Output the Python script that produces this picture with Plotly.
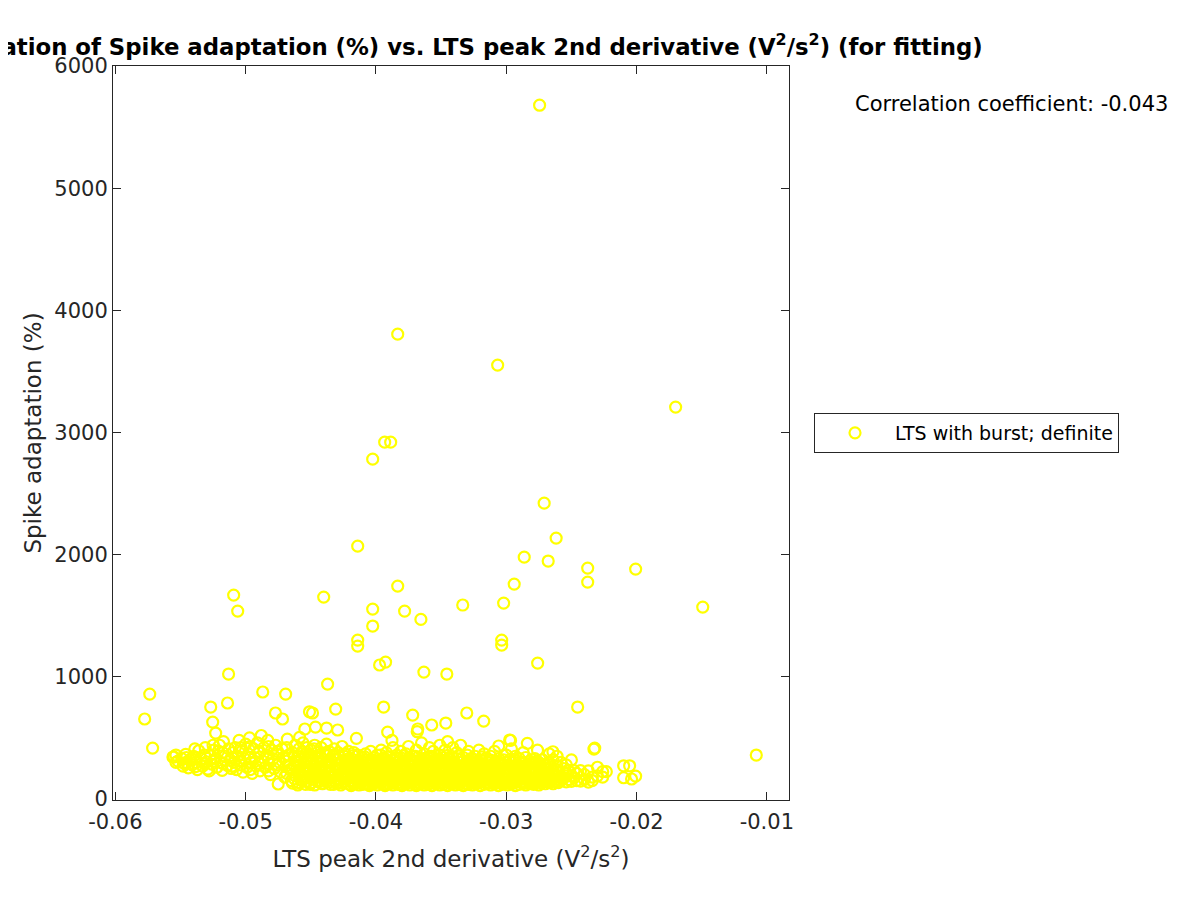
import plotly.graph_objects as go

# ---------------- data ----------------
outliers = [
    [-0.02744, 5679], [-0.03833, 3805], [-0.03066, 3552], [-0.01700, 3208],
    [-0.03933, 2921], [-0.03887, 2921], [-0.04025, 2782], [-0.02709, 2422],
    [-0.04140, 2070], [-0.02617, 2136], [-0.02862, 1980], [-0.02939, 1759],
    [-0.02375, 1890], [-0.02375, 1776], [-0.02007, 1882], [-0.02678, 1948],
    [-0.03833, 1743], [-0.05092, 1669], [-0.05061, 1538], [-0.04401, 1653],
    [-0.04025, 1555], [-0.03780, 1538], [-0.04025, 1416], [-0.03334, 1588],
    [-0.03020, 1604], [-0.03035, 1301], [-0.03035, 1260], [-0.04140, 1301],
    [-0.04140, 1252], [-0.03655, 1470], [-0.01492, 1571], [-0.03926, 1121],
    [-0.03972, 1097], [-0.02759, 1113], [-0.05131, 1023], [-0.03632, 1039],
    [-0.03456, 1023], [-0.05736, 859], [-0.05775, 655], [-0.05714, 417],
    [-0.04869, 876], [-0.04693, 859], [-0.04371, 941], [-0.05268, 753],
    [-0.05139, 786], [-0.05253, 630], [-0.05230, 540], [-0.04771, 704],
    [-0.04717, 655], [-0.04487, 704], [-0.04510, 714], [-0.04309, 736],
    [-0.04464, 589], [-0.04379, 581], [-0.04294, 565], [-0.04546, 573],
    [-0.03941, 753], [-0.03718, 687], [-0.03910, 548], [-0.03679, 573],
    [-0.03572, 606], [-0.03464, 622], [-0.03303, 704], [-0.03173, 638],
    [-0.02452, 753], [-0.02321, 417], [-0.01081, 360], [-0.02974, 483],
    [-0.03058, 434], [-0.02967, 480], [-0.02838, 456], [-0.02642, 387],
    [-0.02327, 409], [-0.04586, 505], [-0.04150, 497], [-0.03877, 480],
    [-0.03683, 551], [-0.02099, 272], [-0.02053, 272], [-0.02099, 174],
    [-0.02038, 164], [-0.02007, 188], [-0.02232, 224], [-0.05558, 344],
]

cluster_left = [
    [-0.0555, 344], [-0.0552, 310], [-0.0549, 330], [-0.0547, 290], [-0.0546, 365],
    [-0.0544, 255], [-0.0543, 320], [-0.0541, 280], [-0.0540, 350], [-0.0538, 300],
    [-0.0537, 240], [-0.0536, 395], [-0.0534, 330], [-0.0533, 270], [-0.0531, 420],
    [-0.0530, 305], [-0.0529, 245], [-0.0527, 360], [-0.0526, 285], [-0.0525, 440],
    [-0.0523, 330], [-0.0522, 260], [-0.0521, 390], [-0.0519, 300], [-0.0518, 235],
    [-0.0517, 470], [-0.0516, 350], [-0.0514, 275], [-0.0513, 410], [-0.0512, 320],
    [-0.0511, 250], [-0.0510, 380], [-0.0548, 270], [-0.0539, 410], [-0.0528, 230],
    [-0.0520, 440],
    [-0.0509, 300], [-0.0508, 420], [-0.0507, 240], [-0.0506, 350], [-0.0505, 480],
    [-0.0504, 280], [-0.0503, 390], [-0.0502, 220], [-0.0501, 330], [-0.0500, 450],
    [-0.0499, 260], [-0.0498, 370], [-0.0497, 500], [-0.0496, 300], [-0.0495, 210],
    [-0.0494, 410], [-0.0493, 340], [-0.0492, 270], [-0.0491, 460], [-0.0490, 380],
    [-0.0489, 230], [-0.0488, 520], [-0.0487, 310], [-0.0486, 420], [-0.0485, 260],
    [-0.0484, 360], [-0.0483, 480], [-0.0482, 290], [-0.0481, 200], [-0.0480, 400],
    [-0.0479, 330], [-0.0478, 250], [-0.0477, 440], [-0.0476, 370], [-0.0475, 123],
    [-0.0474, 300], [-0.0473, 220], [-0.0472, 410], [-0.0471, 340], [-0.0470, 180],
    [-0.0469, 270], [-0.0468, 490], [-0.0467, 360], [-0.0466, 240], [-0.0465, 150],
    [-0.05535, 300], [-0.05535, 360], [-0.05455, 300], [-0.05455, 340],
    [-0.05385, 265], [-0.05385, 340], [-0.05315, 290], [-0.05315, 360],
    [-0.05245, 310], [-0.05245, 400], [-0.05175, 290], [-0.05175, 380],
    [-0.05105, 270], [-0.05105, 340], [-0.05035, 310], [-0.05035, 420],
    [-0.04965, 240], [-0.04965, 340], [-0.04965, 430], [-0.04895, 290],
    [-0.04895, 390], [-0.04825, 230], [-0.04825, 330], [-0.04825, 430],
    [-0.04755, 280], [-0.04755, 390], [-0.04685, 210], [-0.04685, 310],
    [-0.04685, 420],
]

cluster_mid_left = [
    [-0.0464, 130], [-0.0464, 250], [-0.0464, 380],
    [-0.0462, 190], [-0.0462, 310], [-0.0462, 440],
    [-0.0460, 115], [-0.0460, 230], [-0.0460, 350],
    [-0.0459, 280], [-0.0459, 410],
    [-0.0457, 150], [-0.0457, 200], [-0.0457, 330],
    [-0.0456, 260], [-0.0456, 460],
    [-0.0454, 120], [-0.0454, 220], [-0.0454, 370],
    [-0.0453, 170], [-0.0453, 300], [-0.0453, 420],
    [-0.0451, 240], [-0.0451, 350],
    [-0.0450, 135], [-0.0450, 195], [-0.0450, 290], [-0.0450, 400],
    [-0.0448, 160], [-0.0448, 260], [-0.0448, 330],
    [-0.0447, 115], [-0.0447, 220], [-0.0447, 440],
    [-0.0445, 180], [-0.0445, 300], [-0.0445, 380],
    [-0.0444, 140], [-0.0444, 250],
    [-0.0442, 200], [-0.0442, 340], [-0.0442, 420],
    [-0.0441, 125], [-0.0441, 270],
    [-0.0439, 170], [-0.0439, 230], [-0.0439, 360],
    [-0.0438, 145], [-0.0438, 300], [-0.0438, 450],
    [-0.0436, 210], [-0.0436, 260], [-0.0436, 390],
    [-0.0435, 120], [-0.0435, 180], [-0.0435, 320],
    [-0.0433, 240], [-0.0433, 350],
    [-0.0432, 150], [-0.0432, 200], [-0.0432, 410],
    [-0.0430, 130], [-0.0430, 280], [-0.0430, 330],
    [-0.0429, 170], [-0.0429, 230], [-0.0429, 380],
    [-0.0427, 115], [-0.0427, 260],
    [-0.0426, 190], [-0.0426, 310], [-0.0426, 430],
    [-0.0424, 140], [-0.0424, 220], [-0.0424, 350],
    [-0.0423, 165], [-0.0423, 270],
    [-0.0421, 125], [-0.0421, 200], [-0.0421, 330], [-0.0421, 390],
]

cluster_core = [
    [-0.0419, 110], [-0.0419, 175], [-0.0419, 240], [-0.0419, 330],
    [-0.0417, 140], [-0.0417, 210], [-0.0417, 290], [-0.0417, 380],
    [-0.0416, 125], [-0.0416, 190], [-0.0416, 260],
    [-0.0414, 155], [-0.0414, 230], [-0.0414, 310], [-0.0414, 360],
    [-0.0413, 115], [-0.0413, 200], [-0.0413, 270],
    [-0.0411, 145], [-0.0411, 180], [-0.0411, 250], [-0.0411, 340],
    [-0.0410, 120], [-0.0410, 220], [-0.0410, 300],
    [-0.0408, 165], [-0.0408, 240], [-0.0408, 370],
    [-0.0407, 130], [-0.0407, 195], [-0.0407, 280], [-0.0407, 320],
    [-0.0405, 110], [-0.0405, 170], [-0.0405, 250],
    [-0.0404, 150], [-0.0404, 210], [-0.0404, 300], [-0.0404, 390],
    [-0.0402, 125], [-0.0402, 185], [-0.0402, 265],
    [-0.0401, 140], [-0.0401, 230], [-0.0401, 340],
    [-0.0399, 115], [-0.0399, 200], [-0.0399, 280], [-0.0399, 360],
    [-0.0398, 160], [-0.0398, 250], [-0.0398, 310],
    [-0.0396, 130], [-0.0396, 180], [-0.0396, 220], [-0.0396, 400],
    [-0.0395, 145], [-0.0395, 270], [-0.0395, 330],
    [-0.0393, 110], [-0.0393, 195], [-0.0393, 240], [-0.0393, 300],
    [-0.0392, 170], [-0.0392, 260], [-0.0392, 380],
    [-0.0390, 125], [-0.0390, 210], [-0.0390, 290], [-0.0390, 345],
    [-0.0389, 150], [-0.0389, 185], [-0.0389, 235],
    [-0.0387, 115], [-0.0387, 250], [-0.0387, 320], [-0.0387, 420],
    [-0.0386, 140], [-0.0386, 200], [-0.0386, 275],
    [-0.0384, 130], [-0.0384, 165], [-0.0384, 230], [-0.0384, 360],
    [-0.0383, 120], [-0.0383, 210], [-0.0383, 300],
    [-0.0381, 155], [-0.0381, 250], [-0.0381, 340], [-0.0381, 390],
    [-0.0380, 110], [-0.0380, 190], [-0.0380, 270],
    [-0.0378, 145], [-0.0378, 225], [-0.0378, 315],
    [-0.0377, 125], [-0.0377, 175], [-0.0377, 260], [-0.0377, 370],
    [-0.0375, 160], [-0.0375, 205], [-0.0375, 290], [-0.0375, 430],
    [-0.0374, 115], [-0.0374, 240], [-0.0374, 330],
    [-0.0372, 135], [-0.0372, 185], [-0.0372, 270], [-0.0372, 350],
    [-0.0371, 150], [-0.0371, 220], [-0.0371, 300],
    [-0.0369, 110], [-0.0369, 195], [-0.0369, 255], [-0.0369, 400],
    [-0.0368, 140], [-0.0368, 280], [-0.0368, 340],
    [-0.0366, 125], [-0.0366, 170], [-0.0366, 230], [-0.0366, 310],
    [-0.0365, 155], [-0.0365, 210], [-0.0365, 265], [-0.0365, 460],
    [-0.0363, 115], [-0.0363, 190], [-0.0363, 300], [-0.0363, 370],
    [-0.0362, 135], [-0.0362, 245], [-0.0362, 330],
    [-0.0360, 120], [-0.0360, 175], [-0.0360, 215], [-0.0360, 280],
    [-0.0359, 150], [-0.0359, 260], [-0.0359, 350], [-0.0359, 420],
    [-0.0357, 110], [-0.0357, 200], [-0.0357, 300],
    [-0.0356, 140], [-0.0356, 230], [-0.0356, 390],
    [-0.0354, 125], [-0.0354, 180], [-0.0354, 270], [-0.0354, 330],
    [-0.0353, 160], [-0.0353, 215], [-0.0353, 290],
    [-0.0351, 115], [-0.0351, 250], [-0.0351, 360], [-0.0351, 440],
    [-0.0350, 135], [-0.0350, 190], [-0.0350, 300],
    [-0.0348, 120], [-0.0348, 170], [-0.0348, 235], [-0.0348, 340],
    [-0.0347, 150], [-0.0347, 265], [-0.0347, 400],
    [-0.0345, 110], [-0.0345, 200], [-0.0345, 310], [-0.0345, 470],
    [-0.0344, 140], [-0.0344, 225], [-0.0344, 285],
    [-0.0342, 125], [-0.0342, 180], [-0.0342, 250], [-0.0342, 350],
    [-0.0341, 155], [-0.0341, 300], [-0.0341, 420],
    [-0.0339, 115], [-0.0339, 195], [-0.0339, 270],
    [-0.0338, 135], [-0.0338, 230], [-0.0338, 330], [-0.0338, 380],
    [-0.0336, 120], [-0.0336, 170], [-0.0336, 260],
    [-0.0335, 145], [-0.0335, 210], [-0.0335, 300], [-0.0335, 440],
    [-0.0333, 110], [-0.0333, 245], [-0.0333, 340],
    [-0.0332, 130], [-0.0332, 185], [-0.0332, 275],
    [-0.0330, 150], [-0.0330, 220], [-0.0330, 310], [-0.0330, 360],
    [-0.0329, 120], [-0.0329, 260], [-0.0329, 390],
    [-0.0327, 140], [-0.0327, 190], [-0.0327, 240], [-0.0327, 330],
    [-0.0326, 115], [-0.0326, 205], [-0.0326, 290],
    [-0.0324, 160], [-0.0324, 250], [-0.0324, 350],
    [-0.0323, 125], [-0.0323, 180], [-0.0323, 300],
    [-0.0321, 135], [-0.0321, 225], [-0.0321, 270], [-0.0321, 400],
    [-0.0320, 110], [-0.0320, 195], [-0.0320, 320],
    [-0.0318, 150], [-0.0318, 240], [-0.0318, 290],
    [-0.0317, 120], [-0.0317, 175], [-0.0317, 260], [-0.0317, 370],
    [-0.0315, 140], [-0.0315, 215], [-0.0315, 330],
    [-0.0314, 130], [-0.0314, 255], [-0.0314, 300],
    [-0.0312, 115], [-0.0312, 185], [-0.0312, 240], [-0.0312, 350],
    [-0.0311, 145], [-0.0311, 210], [-0.0311, 280],
    [-0.0309, 125], [-0.0309, 170], [-0.0309, 300], [-0.0309, 390],
    [-0.0308, 135], [-0.0308, 230], [-0.0308, 260],
    [-0.0306, 110], [-0.0306, 200], [-0.0306, 330],
    [-0.0305, 150], [-0.0305, 245], [-0.0305, 290],
    [-0.0303, 120], [-0.0303, 180], [-0.0303, 270],
    [-0.0302, 140], [-0.0302, 215], [-0.0302, 320],
    [-0.0300, 130], [-0.0300, 250], [-0.0300, 360],
]

cluster_core_extra = [
    [-0.04625, 165], [-0.04625, 270], [-0.04625, 345],
    [-0.04595, 135], [-0.04595, 215], [-0.04595, 300],
    [-0.04565, 180], [-0.04565, 240], [-0.04565, 390],
    [-0.04535, 145], [-0.04535, 265], [-0.04535, 320],
    [-0.04505, 120], [-0.04505, 230], [-0.04505, 360],
    [-0.04475, 190], [-0.04475, 285], [-0.04475, 410],
    [-0.04445, 155], [-0.04445, 210], [-0.04445, 340],
    [-0.04415, 130], [-0.04415, 245], [-0.04415, 305],
    [-0.04385, 175], [-0.04385, 265], [-0.04385, 380],
    [-0.04355, 140], [-0.04355, 220], [-0.04355, 300],
    [-0.04325, 120], [-0.04325, 185], [-0.04325, 360],
    [-0.04295, 155], [-0.04295, 250], [-0.04295, 320],
    [-0.04265, 135], [-0.04265, 215], [-0.04265, 290],
    [-0.04235, 180], [-0.04235, 245], [-0.04235, 370],
    [-0.04205, 150], [-0.04205, 270], [-0.04205, 310],
    [-0.04175, 125], [-0.04175, 230], [-0.04175, 355],
    [-0.04145, 170], [-0.04145, 205], [-0.04145, 285],
    [-0.04115, 135], [-0.04115, 265], [-0.04115, 315],
    [-0.04085, 150], [-0.04085, 195], [-0.04085, 345],
    [-0.04055, 120], [-0.04055, 230], [-0.04055, 290],
    [-0.04025, 160], [-0.04025, 215], [-0.04025, 320],
    [-0.03995, 140], [-0.03995, 250], [-0.03995, 300],
    [-0.03965, 155], [-0.03965, 205], [-0.03965, 360],
    [-0.03935, 125], [-0.03935, 270], [-0.03935, 335],
    [-0.03905, 165], [-0.03905, 230], [-0.03905, 310],
    [-0.03875, 135], [-0.03875, 190], [-0.03875, 290],
    [-0.03845, 150], [-0.03845, 265], [-0.03845, 330],
    [-0.03815, 120], [-0.03815, 215], [-0.03815, 280],
    [-0.03785, 165], [-0.03785, 245], [-0.03785, 355],
    [-0.03755, 140], [-0.03755, 185], [-0.03755, 310],
    [-0.03725, 155], [-0.03725, 235], [-0.03725, 300],
    [-0.03695, 125], [-0.03695, 225], [-0.03695, 350],
    [-0.03665, 180], [-0.03665, 250], [-0.03665, 290],
    [-0.03635, 145], [-0.03635, 210], [-0.03635, 330],
    [-0.03605, 160], [-0.03605, 240], [-0.03605, 310],
    [-0.03575, 130], [-0.03575, 275], [-0.03575, 350],
    [-0.03545, 150], [-0.03545, 205], [-0.03545, 310],
    [-0.03515, 170], [-0.03515, 225], [-0.03515, 290],
    [-0.03485, 135], [-0.03485, 250], [-0.03485, 315],
    [-0.03455, 155], [-0.03455, 195], [-0.03455, 355],
    [-0.03425, 125], [-0.03425, 270], [-0.03425, 320],
    [-0.03395, 165], [-0.03395, 235], [-0.03395, 300],
    [-0.03365, 140], [-0.03365, 205], [-0.03365, 355],
    [-0.03335, 155], [-0.03335, 265], [-0.03335, 305],
    [-0.03305, 125], [-0.03305, 195], [-0.03305, 285],
    [-0.03275, 160], [-0.03275, 225], [-0.03275, 310],
    [-0.03245, 135], [-0.03245, 270], [-0.03245, 320],
    [-0.03215, 150], [-0.03215, 200], [-0.03215, 290],
    [-0.03185, 165], [-0.03185, 225], [-0.03185, 345],
    [-0.03155, 130], [-0.03155, 190], [-0.03155, 275],
    [-0.03125, 155], [-0.03125, 265], [-0.03125, 320],
    [-0.03095, 145], [-0.03095, 215], [-0.03095, 280],
    [-0.03065, 165], [-0.03065, 230], [-0.03065, 300],
    [-0.03035, 135], [-0.03035, 190], [-0.03035, 275],
    [-0.03005, 155], [-0.03005, 225], [-0.03005, 300],
    [-0.02975, 130], [-0.02975, 205], [-0.02975, 250],
    [-0.02945, 160], [-0.02945, 265], [-0.02945, 320],
    [-0.02915, 140], [-0.02915, 230], [-0.02915, 255],
    [-0.02885, 165], [-0.02885, 205], [-0.02885, 295],
    [-0.02855, 135], [-0.02855, 185], [-0.02855, 275],
    [-0.02825, 150], [-0.02825, 235], [-0.02825, 290],
    [-0.02795, 170], [-0.02795, 260],
    [-0.02765, 140], [-0.02765, 225], [-0.02765, 310],
    [-0.02735, 155], [-0.02735, 200], [-0.02735, 285],
    [-0.02705, 165], [-0.02705, 250],
    [-0.02675, 145], [-0.02675, 225], [-0.02675, 280],
    [-0.02645, 160], [-0.02645, 195],
    [-0.02615, 140], [-0.02615, 240],
]

cluster_right = [
    [-0.0299, 115], [-0.0299, 190], [-0.0299, 280],
    [-0.0297, 145], [-0.0297, 230], [-0.0297, 320],
    [-0.0296, 125], [-0.0296, 175], [-0.0296, 260], [-0.0296, 410],
    [-0.0294, 135], [-0.0294, 210], [-0.0294, 300],
    [-0.0293, 110], [-0.0293, 240], [-0.0293, 350],
    [-0.0291, 150], [-0.0291, 195], [-0.0291, 280],
    [-0.0290, 120], [-0.0290, 225], [-0.0290, 330],
    [-0.0288, 140], [-0.0288, 180], [-0.0288, 260],
    [-0.0287, 130], [-0.0287, 210], [-0.0287, 300], [-0.0287, 380],
    [-0.0285, 115], [-0.0285, 245], [-0.0285, 340],
    [-0.0284, 155], [-0.0284, 190], [-0.0284, 270],
    [-0.0282, 125], [-0.0282, 220], [-0.0282, 310],
    [-0.0281, 140], [-0.0281, 175], [-0.0281, 250],
    [-0.0279, 120], [-0.0279, 205], [-0.0279, 290],
    [-0.0278, 135], [-0.0278, 240], [-0.0278, 330],
    [-0.0276, 150], [-0.0276, 185], [-0.0276, 265], [-0.0276, 400],
    [-0.0275, 115], [-0.0275, 215], [-0.0275, 300],
    [-0.0273, 130], [-0.0273, 175], [-0.0273, 250],
    [-0.0272, 145], [-0.0272, 230], [-0.0272, 320],
    [-0.0270, 125], [-0.0270, 195], [-0.0270, 280],
    [-0.0269, 160], [-0.0269, 240],
    [-0.0267, 135], [-0.0267, 210], [-0.0267, 300], [-0.0267, 370],
    [-0.0266, 150], [-0.0266, 180], [-0.0266, 260],
    [-0.0264, 125], [-0.0264, 230], [-0.0264, 320],
    [-0.0263, 145], [-0.0263, 200],
    [-0.0261, 160], [-0.0261, 270], [-0.0261, 350],
    [-0.0260, 135], [-0.0260, 220],
    [-0.0258, 150], [-0.0258, 190], [-0.0258, 300],
    [-0.0256, 170], [-0.0256, 250],
    [-0.0254, 140], [-0.0254, 210], [-0.0254, 280],
    [-0.0252, 160], [-0.0252, 230],
    [-0.0250, 145], [-0.0250, 190], [-0.0250, 320],
    [-0.0248, 175], [-0.0248, 232],
    [-0.0246, 150], [-0.0246, 210],
    [-0.0243, 147], [-0.0243, 232],
    [-0.0240, 160], [-0.0240, 200],
    [-0.0237, 139], [-0.0237, 230],
    [-0.0234, 180], [-0.0234, 150],
    [-0.0230, 190], [-0.0230, 260],
    [-0.0226, 224], [-0.0226, 180],
]

x_ticks = [-0.06, -0.05, -0.04, -0.03, -0.02, -0.01]
x_tick_labels = ["-0.06", "-0.05", "-0.04", "-0.03", "-0.02", "-0.01"]
y_ticks = [0, 1000, 2000, 3000, 4000, 5000, 6000]
y_tick_labels = ["0", "1000", "2000", "3000", "4000", "5000", "6000"]
correlation_text = "Correlation coefficient: -0.043"
series_name = "LTS with burst; definite"

all_points = (cluster_left + cluster_mid_left + cluster_core + cluster_core_extra
              + cluster_right + outliers)
xs = [p[0] for p in all_points]
ys = [p[1] for p in all_points]

FONT = "DejaVu Sans"
AXCOL = "#262626"
OFF = 8  # page body margin in the browser

fig = go.Figure()
fig.add_trace(go.Scatter(
    x=xs, y=ys, mode="markers", name=series_name,
    marker=dict(symbol="circle-open", size=11, color="rgb(255,255,0)",
                line=dict(width=2.2, color="rgb(255,255,0)")),
))

fig.update_layout(
    width=1200, height=900,
    paper_bgcolor="white", plot_bgcolor="white",
    margin=dict(l=113 - OFF, r=411 + OFF, t=66 - OFF, b=100 + OFF),
    font=dict(family=FONT, size=21, color=AXCOL),
    title=dict(
        text="Correlation of Spike adaptation (%) vs. LTS peak 2nd derivative (V<sup>2</sup>/s<sup>2</sup>) (for fitting)",
        x=(453 - OFF) / 1200, xanchor="center", xref="container",
        y=1 - (47 - OFF) / 900, yanchor="middle", yref="container",
        font=dict(family=FONT, size=22.8, color="black", weight="bold"),
    ),
    showlegend=True,
    legend=dict(
        x=(814 - 113) / 676, y=0.5, xanchor="left", yanchor="middle",
        bordercolor=AXCOL, borderwidth=1, bgcolor="white",
        font=dict(family=FONT, size=19, color="black"),
        itemwidth=70,
    ),
    xaxis=dict(
        range=[-0.06018, -0.0083], tickvals=x_ticks, ticktext=x_tick_labels,
        showgrid=False, zeroline=False, showline=True, linecolor=AXCOL, linewidth=1,
        mirror="ticks", ticks="inside", ticklen=8, tickcolor=AXCOL,
        ticklabelstandoff=3,
        tickfont=dict(family=FONT, size=21, color=AXCOL),
        title=dict(text="LTS peak 2nd derivative (V<sup>2</sup>/s<sup>2</sup>)",
                   font=dict(family=FONT, size=23, color=AXCOL), standoff=17),
    ),
    yaxis=dict(
        range=[-8, 6000], tickvals=y_ticks, ticktext=y_tick_labels,
        showgrid=False, zeroline=False, showline=True, linecolor=AXCOL, linewidth=1,
        mirror="ticks", ticks="inside", ticklen=8, tickcolor=AXCOL,
        tickfont=dict(family=FONT, size=21, color=AXCOL),
        title=dict(text="Spike adaptation (%)",
                   font=dict(family=FONT, size=23, color=AXCOL), standoff=6),
    ),
    annotations=[dict(
        text=correlation_text, xref="paper", yref="paper",
        x=(1170 - 113) / 676, y=(800 - 104) / 734, xanchor="right", yanchor="middle",
        showarrow=False, font=dict(family=FONT, size=21, color="black"),
    )],
)

fig.write_html("out.html")
